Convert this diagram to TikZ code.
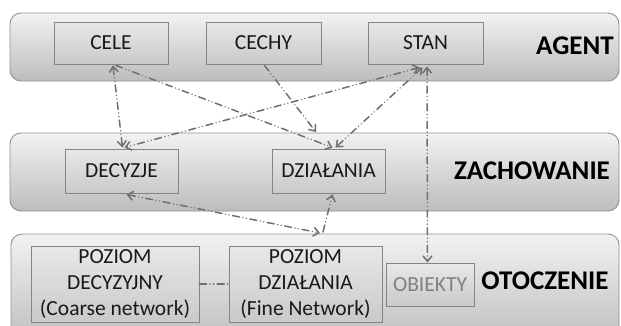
\documentclass[tikz,border=0pt]{standalone}
\usepackage{fontspec}
\setmainfont{Carlito}
\usetikzlibrary{arrows.meta}
\definecolor{bandedge}{HTML}{929292}
\definecolor{boxedge}{HTML}{858585}
\definecolor{conn}{HTML}{707070}
\tikzset{
  band/.style={draw=bandedge, line width=0.9pt, rounded corners=11pt, top color=white!95!black, bottom color=white!74!black, inner sep=0pt},
  labelbox/.style={draw=boxedge, line width=0.9pt, top color=white!91!black, bottom color=white!79!black, inner sep=0pt, font=\fontsize{21.5}{26}\selectfont, text=black!90, align=center},
  bandtitle/.style={font=\fontsize{27}{30}\selectfont\bfseries, text=black},
  conline/.style={draw=conn, line width=1.5pt, line cap=round, dash pattern=on 7pt off 3.5pt on 0.1pt off 3.5pt on 0.1pt off 3.5pt},
  tipboth/.style={{Straight Barb[length=5.5pt,width=9pt,line width=1.5pt]}-{Straight Barb[length=5.5pt,width=9pt,line width=1.5pt]}},
  tipend/.style={-{Straight Barb[length=5.5pt,width=9pt,line width=1.5pt]}}
}
\begin{document}
\begin{tikzpicture}[x=1pt,y=-1pt]
\clip (0,0) rectangle (621,325);
\fill[white] (0,0) rectangle (621,325);
% bands
\node[band, minimum width=609pt, minimum height=68pt] (bandA) at (314.5,47) {};
\node[band, minimum width=609pt, minimum height=78pt] (bandZ) at (314.5,172) {};
\node[band, minimum width=608pt, minimum height=111pt] (bandO) at (315,289.5) {};
% agent boxes
\node[labelbox, minimum width=114pt, minimum height=42pt] (cele) at (111,43) {CELE};
\node[labelbox, minimum width=115pt, minimum height=42pt] (cechy) at (263.5,43) {CECHY};
\node[labelbox, minimum width=115pt, minimum height=42pt] (stan) at (425.5,43) {STAN};
\node[bandtitle] (agent) at (575,46) {AGENT};
% behaviour
\node[labelbox, minimum width=113pt, minimum height=44pt] (decyzje) at (121.5,171) {DECYZJE};
\node[labelbox, minimum width=113pt, minimum height=44pt] (dzialania) at (328.5,171) {DZIAŁANIA};
\node[bandtitle] (zach) at (532,171) {ZACHOWANIE};
% environment
\node[labelbox, minimum width=168pt, minimum height=76pt] (pdec) at (115,284) {POZIOM\\DECYZYJNY\\(Coarse network)};
\node[labelbox, minimum width=153pt, minimum height=76pt] (pdzi) at (305.5,284) {POZIOM\\DZIAŁANIA\\(Fine Network)};
\node[labelbox, minimum width=88pt, minimum height=43pt, text=black!50] (obiekty) at (430,284.5) {OBIEKTY};
\node[bandtitle] (otocz) at (545,281) {OTOCZENIE};
% free ends
\coordinate (cechyend) at (316,132);
\coordinate (otop1) at (320,233);
\coordinate (otop2) at (323,232);
% connectors
\draw[conline, tipboth] ([xshift=2pt,yshift=-1pt]cele.south) -- ([xshift=1pt,yshift=1pt]decyzje.north);
\draw[conline, tipend] ([xshift=5pt,yshift=-1pt]cele.south) -- ([xshift=4pt,yshift=1pt]dzialania.north);
\draw[conline, tipend] ([xshift=1pt,yshift=-1pt]cechy.south) -- (cechyend);
\draw[conline, tipboth] ([xshift=-6pt,yshift=-3pt]stan.south) -- ([xshift=3pt,yshift=1pt]decyzje.north);
\draw[conline, tipboth] ([xshift=-3pt,yshift=-3pt]stan.south) -- ([xshift=7pt,yshift=1pt]dzialania.north);
\draw[conline, tipboth] ([xshift=1.5pt,yshift=-2pt]stan.south) -- ([xshift=-2.5pt]obiekty.north);
\draw[conline, tipboth] ([xshift=5pt,yshift=-1pt]decyzje.south) -- (otop1);
\draw[conline, tipend] (otop2) -- ([xshift=4pt,yshift=-1pt]dzialania.south);
\draw[conline] (pdec.east) -- (pdzi.west);
\end{tikzpicture}
\end{document}
